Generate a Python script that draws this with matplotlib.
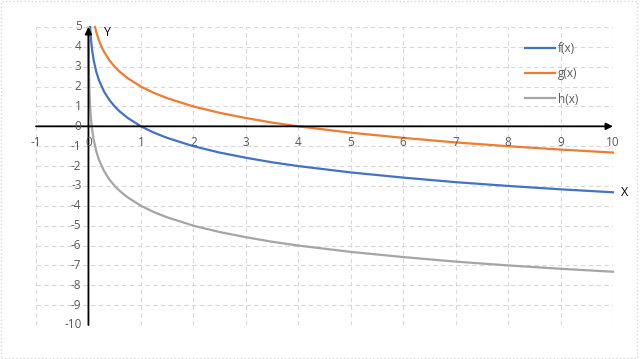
import matplotlib
matplotlib.use("Agg")
from matplotlib import pyplot as plt
from matplotlib.patches import Rectangle

# values
x_f = [0.031, 0.04, 0.05, 0.07, 0.1, 0.15, 0.2, 0.3, 0.4, 0.5, 0.6, 0.75, 1, 1.25, 1.5, 2, 2.5, 3, 3.5, 4, 5, 6, 7, 8, 9, 10]
f_vals = [5.0, 4.64, 4.32, 3.84, 3.32, 2.74, 2.32, 1.74, 1.32, 1.0, 0.74, 0.42, 0.0, -0.32, -0.58, -1.0, -1.32, -1.58, -1.81, -2.0, -2.32, -2.58, -2.81, -3.0, -3.17, -3.32]

x_g = [0.125, 0.15, 0.2, 0.25, 0.3, 0.4, 0.5, 0.6, 0.75, 1, 1.25, 1.5, 2, 2.5, 3, 3.5, 4, 5, 6, 7, 8, 9, 10]
g_vals = [5.0, 4.74, 4.32, 4.0, 3.74, 3.32, 3.0, 2.74, 2.42, 2.0, 1.68, 1.42, 1.0, 0.68, 0.42, 0.19, 0.0, -0.32, -0.58, -0.81, -1.0, -1.17, -1.32]

x_h = [0.002, 0.003, 0.005, 0.01, 0.02, 0.03, 0.05, 0.07, 0.1, 0.15, 0.2, 0.3, 0.4, 0.5, 0.6, 0.75, 1, 1.25, 1.5, 2, 2.5, 3, 3.5, 4, 5, 6, 7, 8, 9, 10]
h_vals = [4.97, 4.38, 3.64, 2.64, 1.64, 1.06, 0.32, -0.16, -0.68, -1.26, -1.68, -2.26, -2.68, -3.0, -3.26, -3.58, -4.0, -4.32, -4.58, -5.0, -5.32, -5.58, -5.81, -6.0, -6.32, -6.58, -6.81, -7.0, -7.17, -7.32]

x_ticks = list(range(-1, 11))
y_ticks = list(range(-10, 6))

txt_color = '#595959'
grid_color = '#d9d9d9'
plt.rcParams['font.family'] = ['Open Sans', 'DejaVu Sans']

fig = plt.figure(facecolor='w', figsize=(6.4, 3.59), dpi=100)
ax = fig.add_axes([36 / 640, 1 - 325 / 359, 577 / 640, 298 / 359])
ax.set_xlim(-1, 10)
ax.set_ylim(-10, 5)
ax.set_axis_off()

# dashed grid
for xv in x_ticks:
    ax.plot([xv, xv], [-10, 5], color=grid_color, lw=0.8, ls=(0, (4, 3)), zorder=1)
for yv in y_ticks:
    ax.plot([-1, 10], [yv, yv], color=grid_color, lw=0.8, ls=(0, (4, 3)), zorder=1)

# axes with arrows
ax.annotate('', xy=(10, 0), xytext=(-1, 0),
            arrowprops=dict(arrowstyle='-|>', color='black', lw=1.3, mutation_scale=10, shrinkA=0, shrinkB=0), zorder=4)
ax.annotate('', xy=(0, 5), xytext=(0, -10),
            arrowprops=dict(arrowstyle='-|>', color='black', lw=1.3, mutation_scale=10, shrinkA=0, shrinkB=0), zorder=4)

# tick labels next to axes
for xv in x_ticks:
    ax.annotate(str(xv), xy=(xv, 0), xytext=(0, -12), textcoords='offset points',
                ha='center', va='center', fontsize=8.5, color=txt_color, zorder=5)
for yv in y_ticks:
    ax.annotate(str(yv), xy=(0, yv), xytext=(-5, 0), textcoords='offset points',
                ha='right', va='center', fontsize=8.5, color=txt_color, zorder=5)

ax.plot(x_f, f_vals, color='#4472C4', lw=1.6, label='f(x)', zorder=3, clip_on=False)
ax.plot(x_g, g_vals, color='#ED7D31', lw=1.6, label='g(x)', zorder=3, clip_on=False)
ax.plot(x_h, h_vals, color='#A5A5A5', lw=1.6, label='h(x)', zorder=3, clip_on=False)

ax.text(0.37, 4.7, 'Y', fontsize=9, color='black', ha='center', va='center')
ax.text(10.22, -3.35, 'X', fontsize=9, color='black', ha='center', va='center', clip_on=False)

leg = ax.legend(loc='upper left', bbox_to_anchor=(484 / 577, 1 - 10 / 298), frameon=False,
                fontsize=8.5, handlelength=2.6, handletextpad=0.2, labelspacing=1.05, borderaxespad=0)
for t in leg.get_texts():
    t.set_color(txt_color)

# chart area border
fig.patches.append(Rectangle((0.002, 0.004), 0.994, 0.992, transform=fig.transFigure,
                             fill=False, edgecolor=grid_color, lw=1.0, ls=':'))

fig.savefig('out.png', dpi=100)
plt.close()
